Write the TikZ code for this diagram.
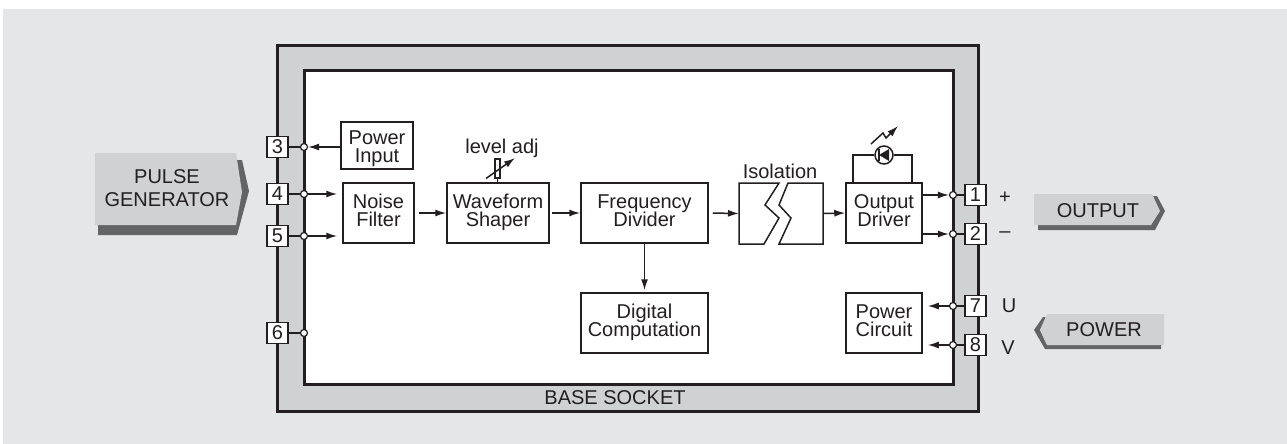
\documentclass[tikz,border=0pt]{standalone}
\usepackage{fontspec}
\setmainfont{Liberation Sans}
\usetikzlibrary{arrows.meta,calc}
\definecolor{bgc}{HTML}{E5E6E8}
\definecolor{framec}{HTML}{D0D1D3}
\definecolor{shadowc}{HTML}{636466}
\definecolor{inkc}{HTML}{231F20}
\setlength{\lineskiplimit}{-20pt}
\tikzset{
  lbl/.style={inner sep=0pt,text=inkc,align=center,font=\fontsize{20}{18}\selectfont},
  block/.style={draw=inkc,line width=1.5pt,fill=white,inner sep=0pt,text=inkc,align=center,font=\fontsize{20}{18}\selectfont,
    execute at begin node={\rule{0pt}{18pt}},execute at end node={\rule[-5pt]{0pt}{5pt}}},
  term/.style={draw=inkc,line width=1.5pt,fill=white,minimum width=21pt,minimum height=21pt,inner sep=0pt,text=inkc,font=\fontsize{20}{20}\selectfont},
  dot/.style={circle,draw=inkc,line width=1.2pt,fill=white,minimum size=7pt,inner sep=0pt},
  wire/.style={draw=inkc,line width=1.5pt},
  arr/.style={wire,-{Latex[length=11pt,width=7pt]}},
  heavy/.style={draw=inkc,line width=3pt}
}
\newcommand{\blockat}[6]{\node[block,minimum width=#4pt-#2pt,minimum height=#5pt-#3pt] (#1) at ({(#2+#4)/2},{(#3+#5)/2}) {#6};}
\begin{document}
\begin{tikzpicture}[x=1pt,y=-1pt]
\useasboundingbox (0,0) rectangle (1287,444);
\fill[white] (0,0) rectangle (1287,444);
\fill[bgc] (3,9) rectangle (1287,444);
% socket frame
\fill[framec,draw=inkc,line width=3pt] (277.5,45.5) rectangle (978,411);
\fill[white,draw=inkc,line width=3pt] (304,70.5) rectangle (953,384);
\node[lbl] (base) at (615,398) {BASE SOCKET};
% side labels: chevrons
\fill[shadowc] (98,235) -- (237,235) -- (249,191) -- (242,160) -- (236,160) -- (236,225) -- (98,225) -- cycle;
\fill[framec] (95,153) -- (236,153) -- (242,192) -- (236,225) -- (95,225) -- cycle;
\node[lbl] (pulse) at (167,188.5) {PULSE\\[5pt]GENERATOR};
\fill[shadowc] (1038,225) -- (1151,225) -- (1159,211) -- (1153,196) -- (1157,196) -- (1165,211) -- (1155,230) -- (1038,230) -- cycle;
\fill[framec] (1034,194) -- (1152,194) -- (1160,211) -- (1151,225) -- (1034,225) -- cycle;
\node[lbl] (output) at (1098,211) {OUTPUT};
\fill[shadowc] (1046,317) -- (1043,317) -- (1034,330) -- (1045,349) -- (1161,349) -- (1161,345) -- (1047,345) -- (1040,330) -- cycle;
\fill[framec] (1047,314) -- (1164,314) -- (1164,345) -- (1047,345) -- (1040,330) -- cycle;
\node[lbl] (power) at (1104,330) {POWER};
% blocks
\blockat{pin}{341}{122}{413}{169}{\rule{0pt}{21pt}Power\\Input}
\blockat{noise}{343}{183}{414}{243}{Noise\\Filter}
\blockat{wave}{447}{183}{549}{243}{Waveform\\Shaper}
\blockat{freq}{581}{183}{708}{243}{Frequency\\Divider}
\blockat{digi}{581}{293}{708}{353}{Digital\\Computation}
\blockat{drv}{846}{183}{922}{243}{Output\\Driver}
\blockat{pwr}{846}{293}{922}{353}{Power\\Circuit}
% isolation
\draw[wire,fill=white] (739,183) -- (779,183) -- (765,205) -- (779,218) -- (764,244) -- (739,244) -- cycle;
\draw[wire,fill=white] (788,183) -- (823,183) -- (823,244) -- (779,244) -- (791,218) -- (779,205) -- cycle;
\coordinate (isoL) at (739,213.5);
\coordinate (isoR) at (823,213.5);
\node[lbl] (isolbl) at (780,171) {Isolation};
% terminals
\node[term] (t3) at (277.5,147) {3};
\node[term] (t4) at (277.5,194) {4};
\node[term] (t5) at (277.5,236) {5};
\node[term] (t6) at (277.5,333) {6};
\node[term] (t1) at (975.5,195) {1};
\node[term] (t2) at (975.5,234) {2};
\node[term] (t7) at (975.5,306) {7};
\node[term] (t8) at (975.5,345) {8};
\node[dot] (d3) at (304,147) {};
\node[dot] (d4) at (304,194) {};
\node[dot] (d5) at (304,236) {};
\node[dot] (d6) at (304,333) {};
\node[dot] (d1) at (953,195) {};
\node[dot] (d2) at (953,234) {};
\node[dot] (d7) at (953,306) {};
\node[dot] (d8) at (953,345) {};
\foreach \a/\b in {t3/d3,t4/d4,t5/d5,t6/d6,t1/d1,t2/d2,t7/d7,t8/d8}{\draw[wire] (\a) -- (\b);}
\node[lbl] (plus) at (1005,198) {+};
\node[lbl] (minus) at (1005,235) {–};
\node[lbl] (lu) at (1009,306) {U};
\node[lbl] (lv) at (1008,348) {V};
% connectors
\draw[arr] (pin.west |- d3) -- (d3);
\draw[arr,shorten >=5pt] (d4) -- (noise.west |- d4);
\draw[arr,shorten >=5pt] (d5) -- (noise.west |- d5);
\draw[arr,shorten <=4pt] (noise.east) -- (wave.west);
\draw[arr,shorten <=2pt] (wave.east) -- (freq.west);
\draw[arr,shorten <=4pt] (freq.east) -- (isoL);
\draw[arr] (isoR) -- (drv.west);
\draw[arr,shorten >=2pt] (freq.south) -- (digi.north);
\draw[arr] (drv.east |- d1) -- (d1);
\draw[arr] (drv.east |- d2) -- (d2);
\draw[arr,shorten >=5pt] (d7) -- (pwr.east |- d7);
\draw[arr,shorten >=5pt] (d8) -- (pwr.east |- d8);
% level adj
\node[lbl] (lvl) at (502,148) {level adj};
\node[draw=inkc,line width=1.2pt,fill=white,minimum width=5pt,minimum height=19pt,inner sep=0pt] (res) at (497.5,168.5) {};
\draw[wire] (res.south) -- (res.south |- wave.north);
\coordinate (adjA) at (486,178.5);
\coordinate (adjB) at (515,158);
\draw[arr] (adjA) -- (adjB);
% LED
\node[circle,draw=inkc,line width=1.5pt,fill=white,minimum size=18pt,inner sep=0pt] (led) at (884,155) {};
\fill[inkc] (879,155) -- (889,149) -- (889,161) -- cycle;
\draw[inkc,line width=1.2pt] (879,149) -- (879,161);
\draw[wire] (led.west) -- (853,155) -- (853,182);
\draw[wire] (led.east) -- (912,155) -- (912,182);
\draw[wire,-{Latex[length=11pt,width=7pt]}] (871,144) -- (883,133) -- (886,138) -- (898,126);
\end{tikzpicture}
\end{document}
